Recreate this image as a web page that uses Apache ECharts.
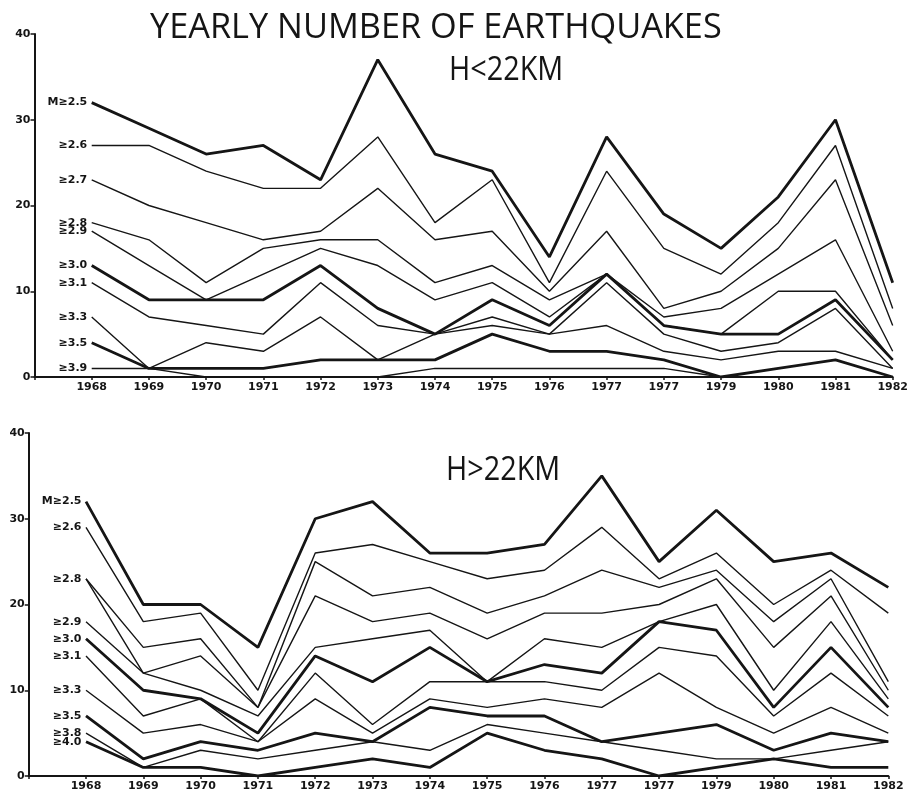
<!DOCTYPE html>
<html>
<head>
<meta charset="utf-8">
<script src="https://cdn.jsdelivr.net/npm/echarts@6/dist/echarts.min.js"></script>
<style>
html,body{margin:0;padding:0;background:#fff;}
#chart{width:911px;height:805px;}
</style>
</head>
<body>
<div id="chart"></div>
<script>
// Tick labels (as printed, including the duplicated "1977")
const yearLabels = ['1968','1969','1970','1971','1972','1973','1974','1975','1976','1977','1977','1979','1980','1981','1982'];

// Upper panel: H<22KM
const topNames = ['M≥2.5','≥2.6','≥2.7','≥2.8','≥2.9','≥3.0','≥3.1','≥3.3','≥3.5','≥3.9'];
const topThick = [true,false,false,false,false,true,false,false,true,false];
const topM25 = [32, 29, 26, 27, 23, 37, 26, 24, 14, 28, 19, 15, 21, 30, 11];
const topM26 = [27, 27, 24, 22, 22, 28, 18, 23, 11, 24, 15, 12, 18, 27, 8];
const topM27 = [23, 20, 18, 16, 17, 22, 16, 17, 10, 17, 8, 10, 15, 23, 6];
const topM28 = [18, 16, 11, 15, 16, 16, 11, 13, 9, 12, 7, 8, 12, 16, 3];
const topM29 = [17, 13, 9, 12, 15, 13, 9, 11, 7, 12, 6, 5, 10, 10, 2];
const topM30 = [13, 9, 9, 9, 13, 8, 5, 9, 6, 12, 6, 5, 5, 9, 2];
const topM31 = [11, 7, 6, 5, 11, 6, 5, 7, 5, 11, 5, 3, 4, 8, 1];
const topM33 = [7, 1, 4, 3, 7, 2, 5, 6, 5, 6, 3, 2, 3, 3, 1];
const topM35 = [4, 1, 1, 1, 2, 2, 2, 5, 3, 3, 2, 0, 1, 2, 0];
const topM39 = [1, 1, 0, 0, 0, 0, 1, 1, 1, 1, 1, 0, 0, 0, 0];

// Lower panel: H>22KM
const botNames = ['M≥2.5','≥2.6','','≥2.8','≥2.9','≥3.0','≥3.1','≥3.3','≥3.5','≥3.8','≥4.0'];
const botThick = [true,false,false,false,false,true,false,false,true,false,true];
const botM25 = [32, 20, 20, 15, 30, 32, 26, 26, 27, 35, 25, 31, 25, 26, 22];
const botM26 = [29, 18, 19, 10, 26, 27, 25, 23, 24, 29, 23, 26, 20, 24, 19];
const botM27 = [23, 15, 16, 8, 25, 21, 22, 19, 21, 24, 22, 24, 18, 23, 11];
const botM28 = [23, 12, 14, 8, 21, 18, 19, 16, 19, 19, 20, 23, 15, 21, 10];
const botM29 = [18, 12, 10, 7, 15, 16, 17, 11, 16, 15, 18, 20, 10, 18, 9];
const botM30 = [16, 10, 9, 5, 14, 11, 15, 11, 13, 12, 18, 17, 8, 15, 8];
const botM31 = [14, 7, 9, 4, 12, 6, 11, 11, 11, 10, 15, 14, 7, 12, 7];
const botM33 = [10, 5, 6, 4, 9, 5, 9, 8, 9, 8, 12, 8, 5, 8, 5];
const botM35 = [7, 2, 4, 3, 5, 4, 8, 7, 7, 4, 5, 6, 3, 5, 4];
const botM38 = [5, 1, 3, 2, 3, 4, 3, 6, 5, 4, 3, 2, 2, 3, 4];
const botM40 = [4, 1, 1, 0, 1, 2, 1, 5, 3, 2, 0, 1, 2, 1, 1];

const yTicks = [0, 10, 20, 30, 40];

const topSets = [topM25, topM26, topM27, topM28, topM29, topM30, topM31, topM33, topM35, topM39];
const botSets = [botM25, botM26, botM27, botM28, botM29, botM30, botM31, botM33, botM35, botM38, botM40];

// small vertical nudges of the left-hand series labels (style only)
const topLabelNudge = [0, 0, 0, -1, 1, 0, 0, 0, 0, 0];
const botLabelNudge = [0, 0, 0, 0, 0, 0, 0, 0, -3, -4, 4];

const INK = '#151515';
const labelFont = '"DejaVu Sans", sans-serif';

function makeSeries(sets, names, thick, nudge, gridIdx) {
  return sets.map((vals, k) => ({
    type: 'line',
    name: 'p' + gridIdx + '_' + k,
    xAxisIndex: gridIdx,
    yAxisIndex: gridIdx,
    data: vals.map((v, i) => [i, v]),
    symbol: 'circle',
    symbolSize: 1,
    showSymbol: true,
    showAllSymbol: true,
    itemStyle: { color: 'rgba(0,0,0,0)' },
    silent: true,
    animation: false,
    z: thick[k] ? 3 : 2,
    lineStyle: { color: INK, width: thick[k] ? 2.8 : 1.4 },
    label: {
      show: true,
      position: 'left',
      distance: 4,
      offset: [0, nudge[k]],
      color: INK,
      fontFamily: labelFont,
      fontWeight: 'bold',
      fontSize: 11,
      formatter: p => (p.dataIndex === 0 ? names[k] : '')
    },
    labelLayout: { hideOverlap: false }
  }));
}

function xAxis(gridIdx) {
  return {
    type: 'value', gridIndex: gridIdx, min: -1, max: 14, interval: 1,
    axisLine: { show: true, onZero: false, lineStyle: { color: INK, width: 2 } },
    axisTick: { show: true, length: 3, lineStyle: { color: INK, width: 1.5 } },
    splitLine: { show: false },
    axisLabel: {
      color: INK, fontFamily: labelFont, fontWeight: 'bold', fontSize: 11, margin: 5,
      showMinLabel: true, showMaxLabel: true,
      formatter: v => (v >= 0 && v < yearLabels.length ? yearLabels[v] : '')
    }
  };
}

function yAxis(gridIdx) {
  return {
    type: 'value', gridIndex: gridIdx, min: yTicks[0], max: yTicks[yTicks.length - 1], interval: 10,
    axisLine: { show: true, onZero: false, lineStyle: { color: INK, width: 2 } },
    axisTick: { show: true, length: 4, lineStyle: { color: INK, width: 1.5 } },
    splitLine: { show: false },
    axisLabel: { color: INK, fontFamily: labelFont, fontWeight: 'bold', fontSize: 11, margin: 4 }
  };
}

const chart = echarts.init(document.getElementById('chart'), null, { renderer: 'canvas' });
chart.setOption({
  backgroundColor: '#ffffff',
  animation: false,
  grid: [
    { left: 34.5, right: 18, top: 34, height: 343 },
    { left: 28.7, right: 22.7, top: 433, height: 343 }
  ],
  xAxis: [xAxis(0), xAxis(1)],
  yAxis: [yAxis(0), yAxis(1)],
  graphic: [
    { type: 'text', left: 150, top: 11, style: { text: 'YEARLY NUMBER OF EARTHQUAKES', fill: INK, font: '400 35px "Open Sans", "DejaVu Sans", sans-serif' }, scaleX: 0.98 },
    { type: 'text', left: 449, top: 55, style: { text: 'H<22KM', fill: INK, font: '400 32px "Open Sans", "DejaVu Sans", sans-serif' }, scaleX: 0.9 },
    { type: 'text', left: 446, top: 455, style: { text: 'H>22KM', fill: INK, font: '400 32px "Open Sans", "DejaVu Sans", sans-serif' }, scaleX: 0.9 }
  ],
  series: makeSeries(topSets, topNames, topThick, topLabelNudge, 0).concat(makeSeries(botSets, botNames, botThick, botLabelNudge, 1))
});
</script>
</body>
</html>
